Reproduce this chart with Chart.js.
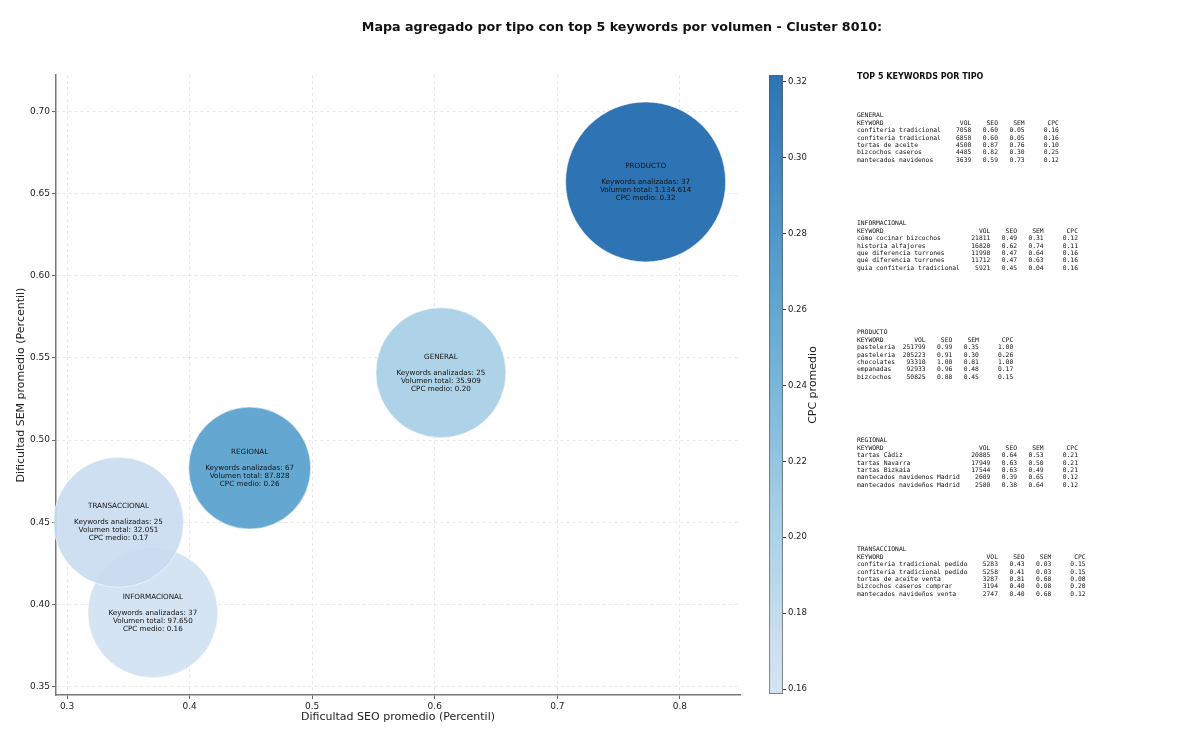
<!DOCTYPE html>
<html>
<head>
<meta charset="utf-8">
<script src="https://cdn.jsdelivr.net/npm/chart.js@4.4.1/dist/chart.umd.min.js"></script>
<style>
  body { margin: 0; background: #fff; }
  #lienzo { position: relative; width: 1200px; height: 742px; overflow: hidden; font-family: "DejaVu Sans", sans-serif; color: #111; }
  #grafico { position: absolute; left: 0; top: 0; }
  #barra { position: absolute; left: 740px; top: 0; }
  #titulo { position: absolute; left: 0; top: 19px; width: 1244px; text-align: center; font-weight: bold; font-size: 12.7px; }
  #panelTitulo { position: absolute; left: 857px; top: 72px; font-weight: bold; font-size: 8px; }
  pre.bloque { position: absolute; left: 857px; margin: 0; font-family: "DejaVu Sans Mono", monospace; font-size: 6.33px; line-height: 7.4px; }
</style>
</head>
<body>
<div id="lienzo">
  <canvas id="grafico" width="1200" height="742"></canvas>
  <canvas id="barra" width="110" height="742"></canvas>
  <div id="titulo">Mapa agregado por tipo con top 5 keywords por volumen - Cluster 8010:</div>
  <div id="panelTitulo">TOP 5 KEYWORDS POR TIPO</div>
  <div id="bloques"></div>
</div>
<script>
// datos agregados por tipo
const tipos = ['GENERAL', 'INFORMACIONAL', 'PRODUCTO', 'REGIONAL', 'TRANSACCIONAL'];
const seoMedio = [0.605, 0.370, 0.772, 0.449, 0.342];
const semMedio = [0.541, 0.395, 0.657, 0.483, 0.450];
const cpcMedio = [0.20, 0.1587, 0.3218, 0.26, 0.17];
const keywordsAnalizadas = [25, 37, 37, 67, 25];
const volumenTotal = [35909, 97650, 1134614, 87828, 32051];
const radioBurbuja = [65, 65, 80, 61, 65];

// ticks
const xTicks = [0.3, 0.4, 0.5, 0.6, 0.7, 0.8];
const yTicks = [0.35, 0.40, 0.45, 0.50, 0.55, 0.60, 0.65, 0.70];
const cbTicks = [0.16, 0.18, 0.20, 0.22, 0.24, 0.26, 0.28, 0.30, 0.32];
const cbMin = 0.1587, cbMax = 0.3218;

// top 5 keywords: keyword, VOL, SEO, SEM, CPC
const topGeneral = [
    ['confiteria tradicional', 7058, 0.60, 0.05, 0.16],
    ['confitería tradicional', 6850, 0.60, 0.05, 0.16],
    ['tortas de aceite', 4500, 0.87, 0.76, 0.10],
    ['bizcochos caseros', 4485, 0.82, 0.30, 0.25],
    ['mantecados navidenos', 3639, 0.59, 0.73, 0.12]
];
const topInformacional = [
    ['cómo cocinar bizcochos', 21811, 0.49, 0.31, 0.12],
    ['historia alfajores', 16820, 0.62, 0.74, 0.11],
    ['que diferencia turrones', 11998, 0.47, 0.64, 0.16],
    ['qué diferencia turrones', 11712, 0.47, 0.63, 0.16],
    ['guia confiteria tradicional', 5921, 0.45, 0.04, 0.16]
];
const topProducto = [
    ['pastelería', 251799, 0.99, 0.35, 1.00],
    ['pasteleria', 205223, 0.91, 0.30, 0.26],
    ['chocolates', 93310, 1.00, 0.81, 1.00],
    ['empanadas', 92933, 0.96, 0.48, 0.17],
    ['bizcochos', 50825, 0.88, 0.45, 0.15]
];
const topRegional = [
    ['tartas Cádiz', 20885, 0.64, 0.53, 0.21],
    ['tartas Navarra', 17949, 0.63, 0.50, 0.21],
    ['tartas Bizkaia', 17544, 0.63, 0.49, 0.21],
    ['mantecados navidenos Madrid', 2609, 0.39, 0.65, 0.12],
    ['mantecados navideños Madrid', 2580, 0.38, 0.64, 0.12]
];
const topTransaccional = [
    ['confitería tradicional pedido', 5283, 0.43, 0.03, 0.15],
    ['confiteria tradicional pedido', 5258, 0.41, 0.03, 0.15],
    ['tortas de aceite venta', 3287, 0.81, 0.68, 0.08],
    ['bizcochos caseros comprar', 3194, 0.40, 0.08, 0.20],
    ['mantecados navideños venta', 2747, 0.40, 0.68, 0.12]
];

// paleta Blues (matplotlib)
const blues = [
    [0, [247, 251, 255]], [0.125, [222, 235, 247]], [0.25, [198, 219, 239]],
    [0.375, [158, 202, 225]], [0.5, [107, 174, 214]], [0.625, [66, 146, 198]],
    [0.75, [33, 113, 181]], [0.875, [8, 81, 156]], [1, [8, 48, 107]]
];
function azul(t) {
    for (let i = 1; i < blues.length; i++) {
        if (t <= blues[i][0]) {
            const [t0, c0] = blues[i - 1], [t1, c1] = blues[i];
            const f = (t - t0) / (t1 - t0);
            return c0.map((c, k) => Math.round(c + (c1[k] - c) * f));
        }
    }
    return blues[blues.length - 1][1];
}
function colorCPC(v, alfa) {
    const t = 0.2 + 0.6 * (v - cbMin) / (cbMax - cbMin);
    const c = azul(Math.max(0, Math.min(1, t)));
    return `rgba(${c[0]}, ${c[1]}, ${c[2]}, ${alfa})`;
}

const miles = v => String(v).replace(/\B(?=(\d{3})+(?!\d))/g, '.');
const fuente = 'DejaVu Sans';

// etiquetas dentro de las burbujas
const etiquetasBurbujas = {
    id: 'etiquetasBurbujas',
    afterDatasetsDraw(chart) {
        const ctx = chart.ctx;
        const meta = chart.getDatasetMeta(0);
        ctx.save();
        ctx.font = `7.2px "${fuente}"`;
        ctx.fillStyle = '#111';
        ctx.textAlign = 'center';
        ctx.textBaseline = 'middle';
        meta.data.forEach((el, i) => {
            const lineas = [
                tipos[i], '',
                'Keywords analizadas: ' + keywordsAnalizadas[i],
                'Volumen total: ' + miles(volumenTotal[i]),
                'CPC medio: ' + cpcMedio[i].toFixed(2)
            ];
            lineas.forEach((t, j) => ctx.fillText(t, el.x, el.y + (j - 2) * 8));
        });
        ctx.restore();
    }
};

new Chart(document.getElementById('grafico'), {
    type: 'bubble',
    data: {
        datasets: [{
            data: tipos.map((t, i) => ({ x: seoMedio[i], y: semMedio[i], r: radioBurbuja[i] })),
            backgroundColor: cpcMedio.map(v => colorCPC(v, 0.9)),
            borderColor: 'rgba(255, 255, 255, 0.7)',
            borderWidth: 0.8,
            clip: false
        }]
    },
    options: {
        responsive: false,
        animation: false,
        layout: { autoPadding: false, padding: { left: 0, top: 75, right: 460, bottom: 0 } },
        plugins: { legend: { display: false }, tooltip: { enabled: false } },
        scales: {
            x: {
                type: 'linear', min: 0.291, max: 0.849,
                afterBuildTicks: s => { s.ticks = xTicks.map(v => ({ value: v })); },
                afterFit: s => { s.height = 47; },
                ticks: { font: { family: fuente, size: 9 }, color: '#222', padding: 2, callback: v => v.toFixed(1) },
                grid: { color: 'rgba(0, 0, 0, 0.09)', tickColor: '#666', tickLength: 4, tickWidth: 1 },
                border: { color: '#777', width: 1.5, dash: [3, 3] },
                title: { display: true, text: 'Dificultad SEO promedio (Percentil)', color: '#222',
                         font: { family: fuente, size: 11 }, padding: { top: 0, bottom: 18 } }
            },
            y: {
                type: 'linear', min: 0.345, max: 0.722,
                afterBuildTicks: s => { s.ticks = yTicks.map(v => ({ value: v })); },
                afterFit: s => { s.width = 56; },
                ticks: { font: { family: fuente, size: 9 }, color: '#222', padding: 2, callback: v => v.toFixed(2) },
                grid: { color: 'rgba(0, 0, 0, 0.09)', tickColor: '#666', tickLength: 4, tickWidth: 1 },
                border: { color: '#777', width: 1.5, dash: [3, 3] },
                title: { display: true, text: 'Dificultad SEM promedio (Percentil)', color: '#222',
                         font: { family: fuente, size: 11 }, padding: { top: 15, bottom: 0 } }
            }
        }
    },
    plugins: [etiquetasBurbujas]
});

// barra de color
const tituloBarra = {
    id: 'tituloBarra',
    afterDraw(chart) {
        const ctx = chart.ctx;
        ctx.save();
        ctx.translate(73, 385);
        ctx.rotate(-Math.PI / 2);
        ctx.font = `11px "${fuente}"`;
        ctx.fillStyle = '#222';
        ctx.textAlign = 'center';
        ctx.textBaseline = 'middle';
        ctx.fillText('CPC promedio', 0, 0);
        ctx.restore();
    }
};

new Chart(document.getElementById('barra'), {
    type: 'bar',
    data: {
        labels: ['cpc'],
        datasets: [{
            data: [[cbMin, cbMax]],
            backgroundColor: ctx => {
                const area = ctx.chart.chartArea;
                if (!area) return colorCPC(cbMin, 0.9);
                const g = ctx.chart.ctx.createLinearGradient(0, area.bottom, 0, area.top);
                for (let i = 0; i <= 20; i++) {
                    g.addColorStop(i / 20, colorCPC(cbMin + (cbMax - cbMin) * i / 20, 0.9));
                }
                return g;
            },
            borderColor: '#666',
            borderWidth: 1,
            borderSkipped: false,
            barPercentage: 1,
            categoryPercentage: 1
        }]
    },
    options: {
        responsive: false,
        animation: false,
        layout: { autoPadding: false, padding: { left: 29, top: 75, right: 0, bottom: 48 } },
        plugins: { legend: { display: false }, tooltip: { enabled: false } },
        scales: {
            x: { display: false },
            y: {
                position: 'right', min: cbMin, max: cbMax,
                afterBuildTicks: s => { s.ticks = cbTicks.map(v => ({ value: v })); },
                afterFit: s => { s.width = 67; },
                ticks: { font: { family: fuente, size: 8.5 }, color: '#222', padding: 2, callback: v => v.toFixed(2) },
                grid: { drawOnChartArea: false, tickColor: '#444', tickLength: 3 },
                border: { display: false }
            }
        }
    },
    plugins: [tituloBarra]
});

// panel de texto con el top 5
const bloques = [
    ['GENERAL', topGeneral, 111.3],
    ['INFORMACIONAL', topInformacional, 219.3],
    ['PRODUCTO', topProducto, 328.3],
    ['REGIONAL', topRegional, 436.3],
    ['TRANSACCIONAL', topTransaccional, 545.3]
];
const contenedor = document.getElementById('bloques');
bloques.forEach(([nombre, filas, top]) => {
    const w = Math.max(7, ...filas.map(f => f[0].length));
    const lineas = [nombre,
        'KEYWORD'.padEnd(w) + 'VOL'.padStart(8) + 'SEO'.padStart(7) + 'SEM'.padStart(7) + 'CPC'.padStart(9)];
    filas.forEach(f => {
        lineas.push(f[0].padEnd(w) + String(f[1]).padStart(8) + f[2].toFixed(2).padStart(7) +
            f[3].toFixed(2).padStart(7) + f[4].toFixed(2).padStart(9));
    });
    const pre = document.createElement('pre');
    pre.className = 'bloque';
    pre.style.top = top + 'px';
    pre.textContent = lineas.join('\n');
    contenedor.appendChild(pre);
});
</script>
</body>
</html>
